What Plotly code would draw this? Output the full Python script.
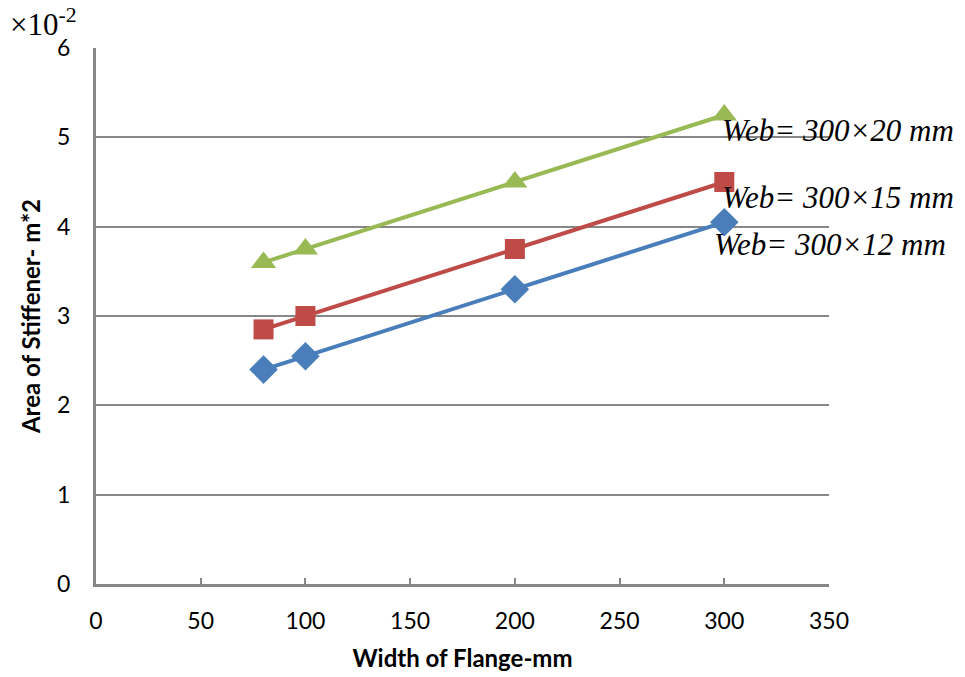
import plotly.graph_objects as go

# Flange widths (mm) and stiffener areas (x 10^-2 m^2) per web size
flange_width = [80, 100, 200, 300]
area_web_12 = [2.40, 2.55, 3.30, 4.05]
area_web_15 = [2.85, 3.00, 3.75, 4.50]
area_web_20 = [3.60, 3.75, 4.50, 5.25]

series_names = ["Web= 300×12 mm", "Web= 300×15 mm", "Web= 300×20 mm"]
x_ticks = [0, 50, 100, 150, 200, 250, 300, 350]
y_ticks = [0, 1, 2, 3, 4, 5, 6]

colors = ["#4a7ebb", "#be4b48", "#98b954"]
symbols = ["diamond", "square", "triangle-up"]
sizes = [22, 20, 22]

fig = go.Figure()
for ys, name, c, s, sz in zip([area_web_12, area_web_15, area_web_20],
                              series_names, colors, symbols, sizes):
    fig.add_trace(go.Scatter(
        x=flange_width, y=ys, name=name, mode="lines+markers",
        line=dict(color=c, width=4),
        marker=dict(symbol=s, size=sz, color=c),
    ))

# Series labels placed beside the last point of each line
label_pos = [(294.0, 3.80), (297.9, 4.33), (297.9, 5.08)]
for (lx, ly), name in zip(label_pos, series_names):
    fig.add_annotation(
        x=lx, y=ly, xref="x", yref="y", text=name, showarrow=False,
        xanchor="left", yanchor="middle",
        font=dict(family="Liberation Serif", size=31, color="black", style="italic"),
    )

# Axis multiplier in the top-left corner
fig.add_annotation(
    x=-88 / 733, y=1 + 26 / 536, xref="paper", yref="paper",
    text="×10<sup>-2</sup>", showarrow=False,
    xanchor="left", yanchor="middle",
    font=dict(family="Liberation Serif", size=31, color="black"),
)

axis_color = "#878787"
fig.update_layout(
    width=965, height=677,
    margin=dict(l=96, r=136, t=48, b=93),
    paper_bgcolor="white", plot_bgcolor="white",
    showlegend=False,
    font=dict(family="Lato", color="black"),
    xaxis=dict(
        range=[0, 350], tickvals=x_ticks, showgrid=False, automargin=False,
        showline=True, linecolor=axis_color, linewidth=3,
        ticks="inside", ticklen=6, tickwidth=2, tickcolor=axis_color,
        tickfont=dict(family="Lato", size=23, color="black"),
        ticklabelstandoff=14,
        title=dict(text="<b>Width of Flange-mm</b>", standoff=18,
                   font=dict(family="Lato", size=24, color="black")),
        zeroline=False,
    ),
    yaxis=dict(
        range=[0, 6], tickvals=y_ticks, showgrid=True, automargin=False,
        gridcolor=axis_color, gridwidth=1.5,
        showline=True, linecolor=axis_color, linewidth=3,
        ticks="inside", ticklen=6, tickwidth=2, tickcolor=axis_color,
        tickfont=dict(family="Lato", size=23, color="black"),
        ticklabelstandoff=18,
        title=dict(text="<b>Area of Stiffener- m*2</b>", standoff=10,
                   font=dict(family="Lato", size=24, color="black")),
        zeroline=False,
    ),
)

fig.write_html("out.html")
